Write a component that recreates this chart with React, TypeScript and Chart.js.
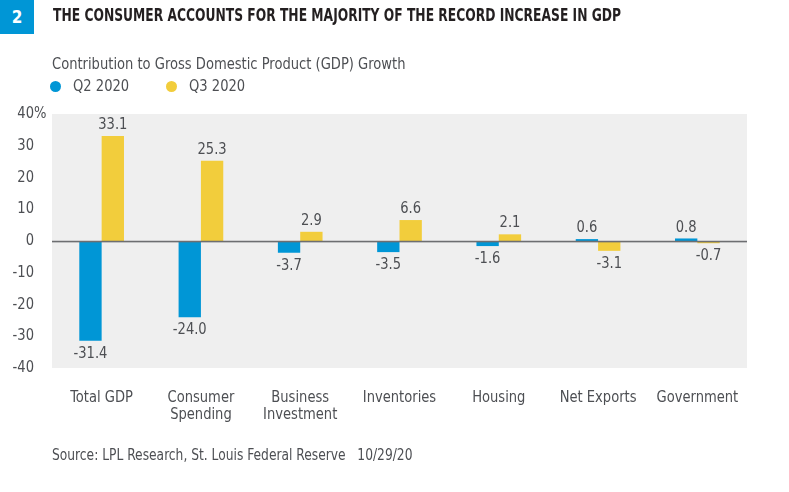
import React, { useEffect, useRef } from "react";
import { Chart, registerables } from "chart.js";

Chart.register(...registerables);

const categories: string[][] = [
  ["Total GDP"],
  ["Consumer", "Spending"],
  ["Business", "Investment"],
  ["Inventories"],
  ["Housing"],
  ["Net Exports"],
  ["Government"],
];
const q2Values = [-31.4, -24.0, -3.7, -3.5, -1.6, 0.6, 0.8];
const q3Values = [33.1, 25.3, 2.9, 6.6, 2.1, -3.1, -0.7];
const yTicks = [40, 30, 20, 10, 0, -10, -20, -30, -40];
const seriesNames = ["Q2 2020", "Q3 2020"];

const BLUE = "#0096d6";
const YELLOW = "#f2cd3c";
const TEXT = "#4d4f53";
const FONT = "'DejaVu Sans Condensed', 'Liberation Sans Narrow', 'Roboto', sans-serif";
const SQUEEZE = 0.91;

function drawText(ctx: any, text: string, x: number, y: number, align: string, baseline: string) {
  ctx.save();
  ctx.translate(x, y);
  ctx.scale(SQUEEZE, 1);
  ctx.textAlign = align;
  ctx.textBaseline = baseline;
  ctx.fillText(text, 0, 0);
  ctx.restore();
}

const overlayPlugin = {
  id: "overlay",
  beforeDatasetsDraw(chart: any) {
    const { ctx, chartArea } = chart;
    ctx.save();
    ctx.fillStyle = "#efefef";
    ctx.fillRect(chartArea.left, chartArea.top, chartArea.right - chartArea.left, chartArea.bottom - chartArea.top);
    ctx.restore();
  },
  afterDatasetsDraw(chart: any) {
    const { ctx, chartArea, scales } = chart;
    const y = scales.y;
    const x = scales.x;
    ctx.save();
    // zero line
    const y0 = y.getPixelForValue(0);
    ctx.fillStyle = "#6d6e71";
    ctx.fillRect(chartArea.left, y0 - 0.25, chartArea.right - chartArea.left, 1.6);

    ctx.fillStyle = TEXT;
    ctx.font = `16px ${FONT}`;
    // data labels
    chart.data.datasets.forEach((ds: any, di: number) => {
      const meta = chart.getDatasetMeta(di);
      meta.data.forEach((el: any, i: number) => {
        const v = ds.data[i];
        const label = v.toFixed(1);
        if (v >= 0) {
          drawText(ctx, label, el.x, el.y - 3, "center", "bottom");
        } else {
          drawText(ctx, label, el.x, el.y + 5, "center", "top");
        }
      });
    });

    // y tick labels
    yTicks.forEach((t, i) => {
      const py = y.getPixelForValue(t);
      drawText(ctx, String(t), 34, py, "right", "middle");
      if (i === 0) drawText(ctx, "%", 34, py, "left", "middle");
    });

    // x category labels
    categories.forEach((lines, i) => {
      const px = x.getPixelForValue(i);
      lines.forEach((ln, li) => {
        drawText(ctx, ln, px, chartArea.bottom + 30 + li * 17, "center", "middle");
      });
    });
    ctx.restore();
  },
};

function ChartCanvas() {
  const ref = useRef<HTMLCanvasElement | null>(null);
  useEffect(() => {
    if (!ref.current) return;
    const chart = new Chart(ref.current, {
      type: "bar",
      data: {
        labels: categories.map((c) => c.join(" ")),
        datasets: [
          {
            label: seriesNames[0],
            data: q2Values,
            backgroundColor: BLUE,
            borderWidth: 0,
            barPercentage: 1,
            categoryPercentage: 0.45,
          },
          {
            label: seriesNames[1],
            data: q3Values,
            backgroundColor: YELLOW,
            borderWidth: 0,
            barPercentage: 1,
            categoryPercentage: 0.45,
          },
        ],
      },
      options: {
        animation: false,
        responsive: false,
        devicePixelRatio: 1,
        layout: { padding: { left: 52, right: 42, top: 114, bottom: 124 } },
        plugins: { legend: { display: false }, tooltip: { enabled: false } },
        scales: {
          x: { display: false },
          y: { display: false, min: -40, max: 40 },
        },
      },
      plugins: [overlayPlugin],
    });
    return () => chart.destroy();
  }, []);
  return (
    <canvas
      ref={ref}
      width={789}
      height={492}
      style={{ position: "absolute", left: 0, top: 0, width: 789, height: 492 }}
    />
  );
}

const squeezeStyle = (k: number) => ({
  transform: `scaleX(${k})`,
  transformOrigin: "left center",
});

export default function App() {
  return (
    <div
      style={{
        position: "absolute",
        left: 0,
        top: 0,
        width: 789,
        height: 492,
        background: "#fff",
        fontFamily: FONT,
        overflow: "hidden",
      }}
    >
      <ChartCanvas />
      <div
        style={{
          position: "absolute",
          left: 0,
          top: 0,
          width: 34,
          height: 34,
          background: BLUE,
          color: "#fff",
          fontWeight: "bold",
          fontSize: 17,
          lineHeight: "34px",
          textAlign: "center",
        }}
      >
        2
      </div>
      <div
        style={{
          position: "absolute",
          left: 53,
          top: 4,
          fontWeight: "bold",
          fontSize: 18,
          lineHeight: "22px",
          color: "#231f20",
          whiteSpace: "nowrap",
          ...squeezeStyle(0.76),
        }}
      >
        THE CONSUMER ACCOUNTS FOR THE MAJORITY OF THE RECORD INCREASE IN GDP
      </div>
      <div
        style={{
          position: "absolute",
          left: 52,
          top: 54,
          fontSize: 16,
          lineHeight: "20px",
          color: TEXT,
          whiteSpace: "nowrap",
          ...squeezeStyle(SQUEEZE),
        }}
      >
        Contribution to Gross Domestic Product (GDP) Growth
      </div>
      {seriesNames.map((name, i) => (
        <div
          key={name}
          style={{
            position: "absolute",
            left: 50 + i * 116,
            top: 76,
            fontSize: 16,
            lineHeight: "20px",
            color: TEXT,
            whiteSpace: "nowrap",
            display: "flex",
            alignItems: "center",
          }}
        >
          <span
            style={{
              display: "inline-block",
              width: 11,
              height: 11,
              borderRadius: "50%",
              background: i === 0 ? BLUE : YELLOW,
              marginRight: 12,
            }}
          />
          <span style={{ display: "inline-block", ...squeezeStyle(SQUEEZE) }}>{name}</span>
        </div>
      ))}
      <div
        style={{
          position: "absolute",
          left: 52,
          top: 445,
          fontSize: 15,
          lineHeight: "20px",
          color: TEXT,
          whiteSpace: "nowrap",
          ...squeezeStyle(SQUEEZE),
        }}
      >
        Source: LPL Research, St. Louis Federal Reserve&nbsp;&nbsp;&nbsp;10/29/20
      </div>
    </div>
  );
}
